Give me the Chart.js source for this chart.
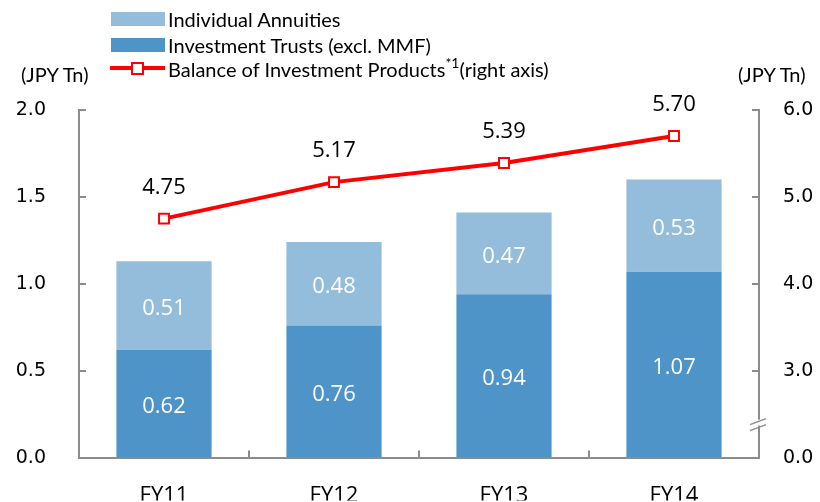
<!DOCTYPE html>
<html>
<head>
<meta charset="utf-8">
<script src="https://cdn.jsdelivr.net/npm/chart.js@4"></script>
<style>
  html, body { margin: 0; padding: 0; background: #fff; }
  #wrap { position: relative; width: 820px; height: 502px; overflow: hidden; }
  canvas { position: absolute; left: 0; top: 0; }
  .lg { position: absolute; font-family: Lato, 'Liberation Sans', sans-serif; font-size: 20px; color: #000; white-space: nowrap; line-height: 20px; }
  .box { position: absolute; width: 54px; height: 14px; }
  sup { font-size: 14px; vertical-align: 9px; line-height: 0; }
</style>
</head>
<body>
<div id="wrap">
  <canvas id="chart" width="820" height="502"></canvas>
  <div class="box" style="left:111px; top:12px; background:#94bddb;"></div>
  <div class="lg" style="left:168px; top:9px;">Individual Annuities</div>
  <div class="box" style="left:111px; top:38px; background:#4f94c9;"></div>
  <div class="lg" style="left:168px; top:35px;">Investment Trusts (excl. MMF)</div>
  <div style="position:absolute; left:110px; top:66px; width:55px; height:4px; background:#ff0000;"></div>
  <div style="position:absolute; left:131px; top:62px; width:9px; height:9px; background:#fff; border:2px solid #ff0000;"></div>
  <div class="lg" style="left:168px; top:59px;">Balance of Investment Products<sup>*1</sup>(right axis)</div>
  <div class="lg" style="left:21px; top:64px;">(JPY Tn)</div>
  <div class="lg" style="left:738px; top:64px;">(JPY Tn)</div>
</div>
<script>
  const categories = ['FY11', 'FY12', 'FY13', 'FY14'];
  const investmentTrusts = [0.62, 0.76, 0.94, 1.07];
  const individualAnnuities = [0.51, 0.48, 0.47, 0.53];
  const balanceProducts = [4.75, 5.17, 5.39, 5.70];
  const leftTicks = [0, 0.5, 1.0, 1.5, 2.0];
  const rightTicks = [2, 3, 4, 5, 6];

  const AXIS_COLOR = '#8c8c8c';
  const LABEL_FONT = "'Open Sans', sans-serif";

  // value labels on bars and line points
  const valueLabels = {
    id: 'valueLabels',
    afterDatasetsDraw(chart) {
      const ctx = chart.ctx;
      ctx.save();
      ctx.textAlign = 'center';
      ctx.textBaseline = 'middle';
      ctx.font = '22px ' + LABEL_FONT;
      [0, 1].forEach(i => {
        const meta = chart.getDatasetMeta(i);
        meta.data.forEach((bar, j) => {
          const mid = (bar.y + bar.base) / 2;
          ctx.fillStyle = '#ffffff';
          ctx.fillText(chart.data.datasets[i].data[j].toFixed(2), bar.x, mid + 3);
        });
      });
      const lineMeta = chart.getDatasetMeta(2);
      lineMeta.data.forEach((pt, j) => {
        ctx.fillStyle = '#000000';
        ctx.fillText(balanceProducts[j].toFixed(2), pt.x, pt.y - 31);
      });
      ctx.restore();
    }
  };

  // inward tick marks and the axis break on the right
  const axisDecor = {
    id: 'axisDecor',
    afterDraw(chart) {
      const ctx = chart.ctx;
      const area = chart.chartArea;
      const y = chart.scales.y;
      const y1 = chart.scales.y1;
      const x = chart.scales.x;
      ctx.save();
      ctx.strokeStyle = AXIS_COLOR;
      ctx.lineWidth = 2;
      ctx.beginPath();
      leftTicks.forEach(v => {
        const py = Math.round(y.getPixelForValue(v));
        ctx.moveTo(area.left, py);
        ctx.lineTo(area.left + 7, py);
      });
      rightTicks.slice(1).forEach(v => {
        const py = Math.round(y1.getPixelForValue(v));
        ctx.moveTo(area.right, py);
        ctx.lineTo(area.right - 7, py);
      });
      for (let i = 1; i < categories.length; i++) {
        const px = Math.round((x.getPixelForValue(i - 1) + x.getPixelForValue(i)) / 2);
        ctx.moveTo(px, area.bottom);
        ctx.lineTo(px, area.bottom - 7);
      }
      ctx.stroke();
      // break mark
      ctx.fillStyle = '#ffffff';
      ctx.fillRect(area.right - 2, area.bottom - 38, 4, 6);
      ctx.beginPath();
      ctx.lineWidth = 1.5;
      ctx.moveTo(area.right - 9, area.bottom - 33);
      ctx.lineTo(area.right + 7, area.bottom - 39);
      ctx.moveTo(area.right - 9, area.bottom - 27);
      ctx.lineTo(area.right + 7, area.bottom - 33);
      ctx.stroke();
      ctx.restore();
    }
  };

  new Chart(document.getElementById('chart'), {
    type: 'bar',
    data: {
      labels: categories,
      datasets: [
        {
          label: 'Investment Trusts (excl. MMF)',
          data: investmentTrusts,
          backgroundColor: '#4f94c9',
          stack: 's',
          order: 1,
          barPercentage: 0.56,
          categoryPercentage: 1
        },
        {
          label: 'Individual Annuities',
          data: individualAnnuities,
          backgroundColor: '#94bddb',
          stack: 's',
          order: 1,
          barPercentage: 0.56,
          categoryPercentage: 1
        },
        {
          type: 'line',
          label: 'Balance of Investment Products (right axis)',
          data: balanceProducts,
          yAxisID: 'y1',
          borderColor: '#ff0000',
          borderWidth: 4,
          pointStyle: 'rect',
          pointRadius: 7,
          pointBackgroundColor: '#ffffff',
          pointBorderColor: '#ff0000',
          pointBorderWidth: 2,
          order: 0
        }
      ]
    },
    options: {
      responsive: false,
      animation: false,
      layout: { padding: { top: 110, left: 0, right: 0, bottom: 0 } },
      plugins: {
        legend: { display: false },
        tooltip: { enabled: false }
      },
      scales: {
        x: {
          stacked: true,
          grid: { display: false, drawTicks: false },
          border: { display: true, color: AXIS_COLOR, width: 2 },
          ticks: { color: '#000', font: { family: LABEL_FONT, size: 22 }, padding: 25 },
          afterFit(scale) { scale.height = 43; }
        },
        y: {
          stacked: true,
          min: 0,
          max: 2,
          grid: { display: false, drawTicks: false },
          border: { display: true, color: AXIS_COLOR, width: 2 },
          ticks: {
            stepSize: 0.5,
            padding: 33,
            color: '#000',
            font: { family: "'DejaVu Sans', sans-serif", size: 19 },
            callback: v => v.toFixed(1)
          },
          afterFit(scale) { scale.width = 79; }
        },
        y1: {
          position: 'right',
          min: 2,
          max: 6,
          grid: { display: false, drawTicks: false },
          border: { display: true, color: AXIS_COLOR, width: 2 },
          ticks: {
            stepSize: 1,
            padding: 24,
            color: '#000',
            font: { family: "'DejaVu Sans', sans-serif", size: 19 },
            callback: v => (v === 2 ? '0.0' : v.toFixed(1))
          },
          afterFit(scale) { scale.width = 61; }
        }
      }
    },
    plugins: [valueLabels, axisDecor]
  });
</script>
</body>
</html>
